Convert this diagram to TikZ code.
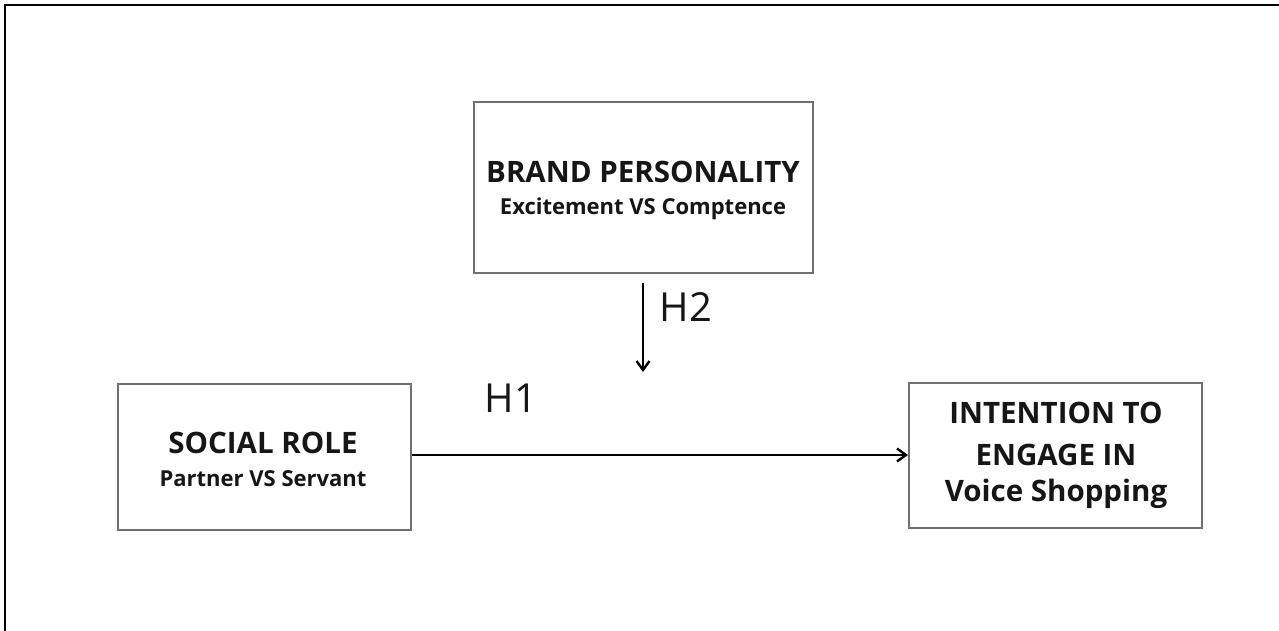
\documentclass[tikz,border=0pt]{standalone}
\usepackage{fontspec}
\setmainfont{Open Sans}
\usetikzlibrary{arrows.meta}
\definecolor{txt}{HTML}{161616}
\definecolor{boxline}{HTML}{707070}
\tikzset{
  box/.style={draw=boxline, line width=1.6pt, fill=white},
  ttl/.style={font=\fontsize{29.5}{32}\selectfont\bfseries, text=txt, inner sep=0pt},
  sub/.style={font=\fontsize{22}{26}\selectfont\bfseries, text=txt, inner sep=0pt},
  hyp/.style={font=\fontsize{40}{44}\selectfont, text=txt, inner sep=0pt},
  conn/.style={line width=2.4pt, -{Straight Barb[length=9pt,width=13pt,line width=2.4pt]}},
}
\begin{document}
\begin{tikzpicture}[x=1pt,y=-1pt]
\useasboundingbox (0,0) rectangle (1279,630);
\fill[white] (0,0) rectangle (1279,630);
% outer frame (top and left edges)
\draw[line width=2pt, black] (1281,5) -- (4.5,5) -- (4.5,632);
% boxes
\node[box, minimum width=339pt, minimum height=171pt, anchor=north west] (bp) at (473,101) {};
\node[box, minimum width=293pt, minimum height=146pt, anchor=north west] (sr) at (117,383) {};
\node[box, minimum width=293pt, minimum height=145pt, anchor=north west] (ie) at (908,382) {};
% texts
\node[ttl] (bpt) at (643,172) {BRAND PERSONALITY};
\node[sub] (bps) at (643,209) {Excitement VS Comptence};
\node[ttl] (srt) at (263,443) {SOCIAL ROLE};
\node[sub] (srs) at (263,479) {Partner VS Servant};
\node[ttl] (ie1) at (1056,413) {INTENTION TO};
\node[ttl] (ie2) at (1056,455) {ENGAGE IN};
\node[ttl] (ie3) at (1056,494) {Voice Shopping};
% connectors
\coordinate (h2s) at (643,283);
\coordinate (h2e) at (643,372);
\draw[conn] (h2s) -- (h2e);
\draw[conn] (sr.east |- 0,455) -- (ie.west |- 0,455);
\node[hyp] (h2) at (686,307) {H2};
\node[hyp] (h1) at (511,398) {H1};
\end{tikzpicture}
\end{document}
